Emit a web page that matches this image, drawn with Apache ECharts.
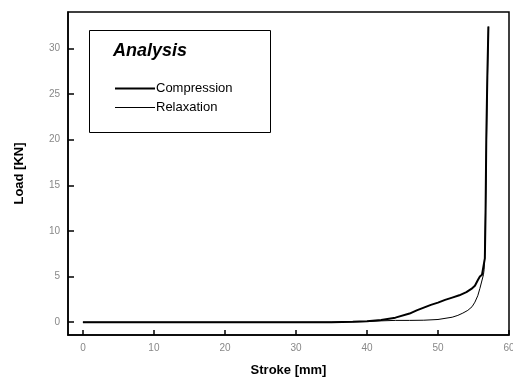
<!DOCTYPE html>
<html>
<head>
<meta charset="utf-8">
<script src="https://cdn.jsdelivr.net/npm/echarts@6/dist/echarts.min.js"></script>
<style>html,body{margin:0;padding:0;background:#fff;}#c{width:513px;height:382px;}</style>
</head>
<body>
<div id="c"></div>
<script>
const xTicks = [0, 10, 20, 30, 40, 50, 60];
const yTicks = [0, 5, 10, 15, 20, 25, 30];
const compX = [0, 10, 20, 30, 35, 38, 40, 42, 44, 46, 47, 48, 49, 50, 51, 52, 53, 54, 54.7, 55.2, 55.6, 55.9, 56.2, 56.45, 56.6, 56.7, 56.8, 56.95, 57.1];
const compY = [0, 0, 0, 0, 0.01, 0.05, 0.12, 0.25, 0.5, 0.95, 1.3, 1.6, 1.9, 2.15, 2.45, 2.7, 2.95, 3.3, 3.65, 4.0, 4.6, 5.0, 5.2, 5.4, 7, 12, 20, 27, 32.4];
const relaxX = [57.1, 56.9, 56.75, 56.6, 56.5, 56.4, 56.1, 55.9, 55.6, 55.2, 54.8, 54.2, 53.5, 52.8, 52, 50, 48, 46, 44, 42, 40, 38, 35, 30, 0];
const relaxY = [32.4, 24, 15, 8, 5.8, 5.2, 4.3, 3.7, 2.9, 2.2, 1.7, 1.3, 1.0, 0.75, 0.55, 0.3, 0.22, 0.2, 0.2, 0.15, 0.08, 0.04, 0.01, 0, 0];

const font = "'Liberation Sans', Arial, sans-serif";
const legendText = {fontFamily: font, fontSize: 13, color: '#000', padding: [0, 0, 0, -4]};
const chart = echarts.init(document.getElementById('c'), null, {renderer: 'canvas'});
chart.setOption({
  animation: false,
  backgroundColor: '#fff',
  grid: {left: 68, right: 4, top: 12, bottom: 47, show: true, borderColor: '#000', borderWidth: 1.5, outerBoundsMode: 'none', containLabel: false},
  xAxis: {
    type: 'value', min: -2.1, max: 60,
    name: 'Stroke [mm]', nameLocation: 'middle', nameGap: 29,
    nameTextStyle: {fontFamily: font, fontWeight: 'bold', fontSize: 13, color: '#000'},
    axisLine: {show: true, onZero: false, lineStyle: {color: '#000', width: 1.5}},
    axisTick: {show: true, inside: true, length: 5, lineStyle: {color: '#000', width: 1.5}, customValues: xTicks},
    axisLabel: {color: '#888', fontFamily: font, fontSize: 10, margin: 8, customValues: xTicks, formatter: v => String(v)},
    splitLine: {show: false}
  },
  yAxis: {
    type: 'value', min: -1.4, max: 34,
    name: 'Load [KN]', nameLocation: 'middle', nameGap: 42,
    nameTextStyle: {fontFamily: font, fontWeight: 'bold', fontSize: 13, color: '#000'},
    axisLine: {show: true, onZero: false, lineStyle: {color: '#000', width: 1.5}},
    axisTick: {show: true, inside: true, length: 6, lineStyle: {color: '#000', width: 1.5}, customValues: yTicks},
    axisLabel: {color: '#888', fontFamily: font, fontSize: 10, margin: 8, customValues: yTicks, formatter: v => String(v)},
    splitLine: {show: false}
  },
  legend: [
    {left: 110, top: 77, orient: 'vertical', icon: 'rect', itemWidth: 40, itemHeight: 2,
     itemStyle: {color: '#000'}, textStyle: legendText, data: ['Compression']},
    {left: 110, top: 96, orient: 'vertical', icon: 'rect', itemWidth: 40, itemHeight: 1,
     itemStyle: {color: '#000'}, textStyle: legendText, data: ['Relaxation']}
  ],
  graphic: [
    {type: 'rect', left: 87, top: 28, shape: {width: 181, height: 102}, style: {fill: 'none', stroke: '#000', lineWidth: 1}, z: 10},
    {type: 'text', left: 113, top: 42, style: {text: 'Analysis', font: "italic bold 18px 'Liberation Sans', Arial, sans-serif", fill: '#000'}, z: 10}
  ],
  series: [
    {name: 'Relaxation', type: 'line', symbol: 'none', lineStyle: {color: '#000', width: 1}, itemStyle: {color: '#000'},
     data: relaxX.map((x, i) => [x, relaxY[i]]), z: 2},
    {name: 'Compression', type: 'line', symbol: 'none', lineStyle: {color: '#000', width: 2}, itemStyle: {color: '#000'},
     data: compX.map((x, i) => [x, compY[i]]), z: 3}
  ]
});
</script>
</body>
</html>
